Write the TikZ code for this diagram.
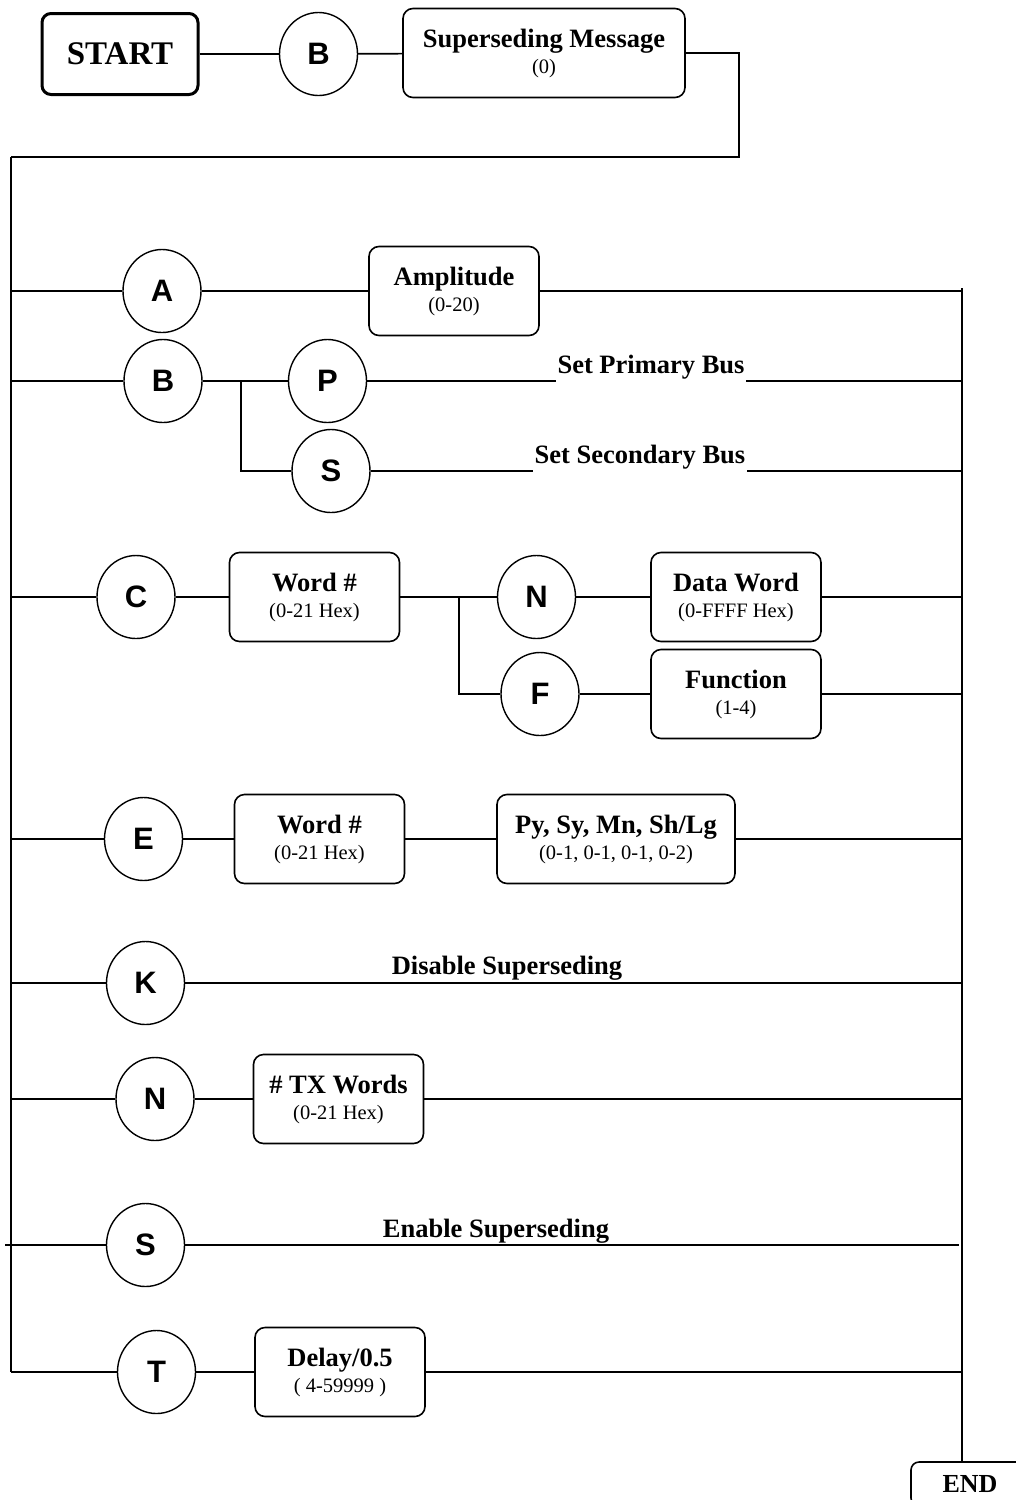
\documentclass[tikz,border=0pt]{standalone}
\usepackage{fontspec}
\setmainfont{Liberation Serif}
\setsansfont{Liberation Sans}
\usetikzlibrary{shapes.geometric}
\newcommand{\twol}[2]{{\fontsize{26.5}{26}\selectfont\bfseries #1}\\{\fontsize{20.5}{26}\selectfont #2}}
\tikzset{
  circ/.style={ellipse, draw, line width=1.4pt, minimum width=78pt, minimum height=83pt, inner sep=0pt,
    font=\sffamily\bfseries\fontsize{31}{31}\selectfont},
  rbox/.style={draw, rounded corners=10pt, line width=1.6pt, minimum width=170pt, minimum height=89pt,
    align=center, inner sep=0pt, font=\fontsize{20.5}{26}\selectfont},
  wire/.style={line width=1.7pt},
  lbl/.style={font=\bfseries\fontsize{26.5}{26}\selectfont, anchor=base, inner sep=0pt},
  lblw/.style={lbl, fill=white, inner xsep=2pt, inner ysep=6pt}
}
\begin{document}
\begin{tikzpicture}[x=1pt,y=-1pt]
\useasboundingbox (0,0) rectangle (1016,1500);
% top row
\node[draw, rounded corners=9pt, line width=3pt, minimum width=156pt, minimum height=81pt,
  font=\bfseries\fontsize{33}{33}\selectfont] (start) at (120,54) {START};
\node[circ] (b0) at (318.5,54) {B};
\node[rbox, minimum width=282pt] (sm) at (544,53) {\twol{Superseding Message}{(0)}};
\draw[wire] (start) -- (b0);
\draw[wire] (b0) -- (sm);
\coordinate (ltop) at (11,157);
\coordinate (rtop) at (962,288);
\coordinate (tr) at (739,157);
\draw[wire] (sm.east) -| (tr) -- (ltop);
% END
\node[draw, rounded corners=8pt, line width=1.6pt, minimum width=118pt, minimum height=44pt,
  font=\bfseries\fontsize{26}{26}\selectfont] (end) at (970,1484) {END};
% A row
\node[circ] (a) at (162,291) {A};
\node[rbox] (amp) at (454,291) {\twol{Amplitude}{(0-20)}};
\draw[wire] (ltop |- a) -- (a);
\draw[wire] (a) -- (amp);
\draw[wire] (amp.east) -- (rtop |- amp.east);
% B row
\node[circ] (b) at (163,381) {B};
\node[circ] (p) at (327.5,381) {P};
\node[circ] (s1) at (331,471) {S};
\coordinate (brb) at (241,381);
\draw[wire] (ltop |- b) -- (b);
\draw[wire] (b) -- (p);
\draw[wire] (brb) |- (s1.west);
\draw[wire] (p) -- (rtop |- p);
\node[lblw] (lp) at (651,373) {Set Primary Bus};
\draw[wire] (s1) -- (rtop |- s1);
\node[lblw] (ls) at (640,463) {Set Secondary Bus};
% C row
\node[circ] (c) at (136,597) {C};
\node[rbox] (w1) at (314.5,597) {\twol{Word \#}{(0-21 Hex)}};
\node[circ] (n1) at (536.5,597) {N};
\node[rbox] (dw) at (736,597) {\twol{Data Word}{(0-FFFF Hex)}};
\node[circ] (f) at (540,694) {F};
\node[rbox] (fn) at (736,694) {\twol{Function}{(1-4)}};
\coordinate (brc) at (459,597);
\draw[wire] (ltop |- c) -- (c);
\draw[wire] (c) -- (w1);
\draw[wire] (w1) -- (n1);
\draw[wire] (brc) |- (f.west);
\draw[wire] (n1) -- (dw);
\draw[wire] (dw) -- (rtop |- dw);
\draw[wire] (f) -- (fn);
\draw[wire] (fn) -- (rtop |- fn);
% E row
\node[circ] (e) at (143.5,839) {E};
\node[rbox] (w2) at (319.5,839) {\twol{Word \#}{(0-21 Hex)}};
\node[rbox, minimum width=238pt] (py) at (616,839) {\twol{Py, Sy, Mn, Sh/Lg}{(0-1, 0-1, 0-1, 0-2)}};
\draw[wire] (ltop |- e) -- (e);
\draw[wire] (e) -- (w2);
\draw[wire] (w2) -- (py);
\draw[wire] (py) -- (rtop |- py);
% K row
\node[circ] (k) at (145.5,983) {K};
\draw[wire] (ltop |- k) -- (k);
\draw[wire] (k) -- (rtop |- k);
\node[lbl] (lk) at (507,974) {Disable Superseding};
% N row
\node[circ] (n2) at (155,1099) {N};
\node[rbox] (tx) at (338.5,1099) {\twol{\# TX Words}{(0-21 Hex)}};
\draw[wire] (ltop |- n2) -- (n2);
\draw[wire] (n2) -- (tx);
\draw[wire] (tx) -- (rtop |- tx);
% S row
\node[circ] (s2) at (145.5,1245) {S};
\coordinate (sl) at (5,1245);
\coordinate (sr) at (959,1245);
\draw[wire] (sl) -- (s2);
\draw[wire] (s2) -- (sr);
\node[lbl] (le) at (496,1237) {Enable Superseding};
% T row
\node[circ] (t) at (156.5,1372) {T};
\node[rbox] (dl) at (340,1372) {\twol{Delay/0.5}{( 4-59999 )}};
\draw[wire] (ltop) -- (ltop |- t);
\draw[wire] (ltop |- t) -- (t);
\draw[wire] (t) -- (dl);
\draw[wire] (dl) -- (rtop |- dl);
% right bus
\draw[wire] (rtop) -- (rtop |- end.north);
\end{tikzpicture}
\end{document}
